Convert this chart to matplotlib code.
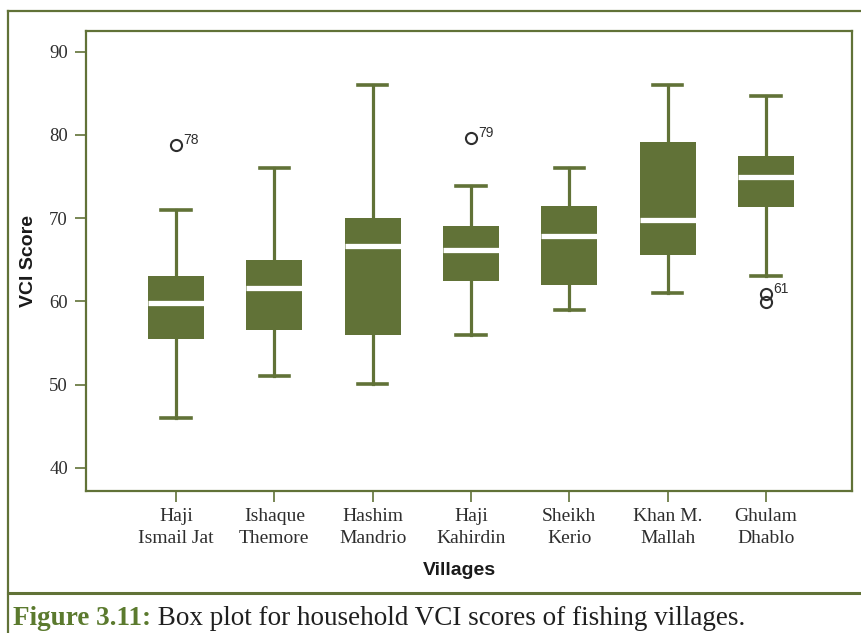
import matplotlib.pyplot as plt
from matplotlib.lines import Line2D

# Box plot data
villages = ['Haji\nIsmail Jat', 'Ishaque\nThemore', 'Hashim\nMandrio',
            'Haji\nKahirdin', 'Sheikh\nKerio', 'Khan M.\nMallah',
            'Ghulam\nDhablo']
whislo = [46.0, 51.0, 50.1, 55.9, 59.0, 61.0, 63.0]
q1 = [55.5, 56.6, 55.9, 62.4, 62.0, 65.6, 71.3]
med = [59.8, 61.6, 66.6, 66.2, 67.9, 69.8, 74.9]
q3 = [63.0, 65.0, 70.0, 69.1, 71.5, 79.1, 77.5]
whishi = [71.0, 76.0, 86.0, 73.9, 76.0, 86.0, 84.7]
outliers = [[78.8], [], [], [79.6], [], [], [60.9, 59.9]]
outlier_ids = [['78'], [], [], ['79'], [], [], ['61', '']]

green = '#617237'
dark = '#2e2e2e'

fig = plt.figure(figsize=(8.61, 6.33), dpi=100)
ax = fig.add_axes([86 / 861, 1 - 491 / 633, 766 / 861, 460 / 633])

stats = []
for i in range(len(villages)):
    stats.append(dict(whislo=whislo[i], q1=q1[i], med=med[i], q3=q3[i],
                      whishi=whishi[i], fliers=outliers[i], label=villages[i]))

positions = list(range(1, len(villages) + 1))
ax.bxp(stats, positions=positions, widths=0.57, capwidths=0.3,
       patch_artist=True, showfliers=True,
       boxprops=dict(facecolor=green, edgecolor=green, linewidth=0),
       medianprops=dict(color='white', linewidth=3.8, solid_capstyle='butt'),
       whiskerprops=dict(color=green, linewidth=2.3),
       capprops=dict(color=green, linewidth=2.6),
       flierprops=dict(marker='o', markersize=8, markerfacecolor='none',
                       markeredgecolor=dark, markeredgewidth=1.5))

# outlier case numbers
for pos, vals, ids in zip(positions, outliers, outlier_ids):
    for v, lab in zip(vals, ids):
        if lab:
            ax.annotate(lab, xy=(pos, v), xytext=(5, 3.5),
                        textcoords='offset points', fontsize=10,
                        color=dark, family='Liberation Sans',
                        ha='left', va='center')

ax.set_xlim(0.085, 7.875)
ax.set_ylim(37.2, 92.5)
ax.set_yticks([40, 50, 60, 70, 80, 90])
ax.set_xticks(positions)
ax.set_xticklabels(villages, family='Liberation Serif', fontsize=14,
                   color=dark, linespacing=1.4)
for lab in ax.get_yticklabels():
    lab.set_family('Liberation Serif')
    lab.set_fontsize(13.5)
    lab.set_color(dark)

ax.tick_params(axis='both', direction='out', length=8, width=1.2,
               color=green)
ax.tick_params(axis='y', pad=5)
ax.tick_params(axis='x', pad=4)
for sp in ax.spines.values():
    sp.set_color(green)
    sp.set_linewidth(1.6)

ax.set_ylabel('VCI Score', fontsize=14, fontweight='bold',
              family='Liberation Sans', color='#1a1a1a')
ax.set_xlabel('Villages', fontsize=14, fontweight='bold',
              family='Liberation Sans', color='#1a1a1a')
ax.yaxis.set_label_coords(-0.0757, 0.5)
ax.yaxis.label.set_va('center')
ax.xaxis.set_label_coords(0.487, -0.172)
ax.xaxis.label.set_va('center')

# outer frame and caption separator
x0 = 8 / 861
ytop = 1 - 11 / 633
ysep = 1 - 593 / 633
fig.add_artist(Line2D([x0, x0], [0, ytop], color=green, lw=1.6))
fig.add_artist(Line2D([x0, 1], [ytop, ytop], color=green, lw=1.6))
fig.add_artist(Line2D([x0, 1], [ysep, ysep], color=green, lw=2.2))

t1 = fig.text(13 / 861, 1 - 631 / 633, 'Figure 3.11:', fontsize=19.5,
              fontweight='bold', color='#5b7a2e', family='Liberation Serif',
              ha='left', va='bottom')
ax.annotate(' Box plot for household VCI scores of fishing villages.',
            xy=(1, 0), xycoords=t1, fontsize=19.5, color='#1f1f1f',
            family='Liberation Serif', ha='left', va='bottom',
            annotation_clip=False)

fig.savefig('out.png', dpi=100)
